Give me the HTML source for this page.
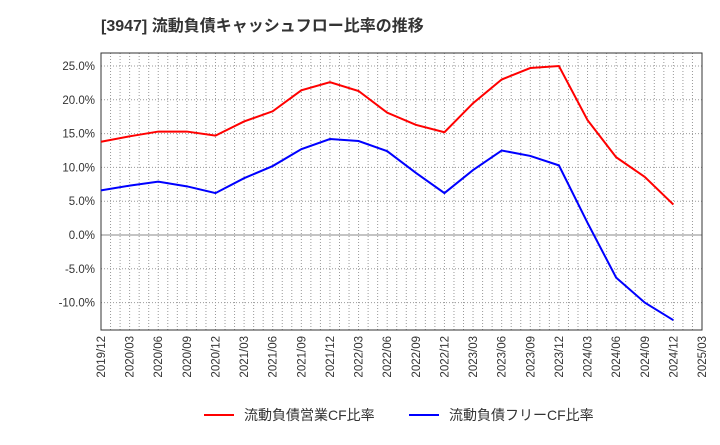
<!DOCTYPE html>
<html><head><meta charset="utf-8"><style>
body{margin:0;background:#fff;font-family:"Liberation Sans","Noto Sans CJK JP",sans-serif}
</style></head><body>
<svg id="c" width="720" height="440" xmlns="http://www.w3.org/2000/svg">
<text x="101" y="31" font-size="16" font-weight="bold" fill="#333">[3947]  流動負債キャッシュフロー比率の推移</text>
<g id="grid"></g><g id="axes"></g><g id="series"></g>
<g>
<line x1="204" y1="415" x2="234" y2="415" stroke="#f00" stroke-width="2"/>
<text x="244" y="420" font-size="14" fill="#333">流動負債営業CF比率</text>
<line x1="409" y1="415" x2="439" y2="415" stroke="#00f" stroke-width="2"/>
<text x="449" y="420" font-size="14" fill="#333">流動負債フリーCF比率</text>
</g>
</svg>
<script>
const categories=["2019/12","2020/03","2020/06","2020/09","2020/12","2021/03","2021/06","2021/09","2021/12","2022/03","2022/06","2022/09","2022/12","2023/03","2023/06","2023/09","2023/12","2024/03","2024/06","2024/09","2024/12","2025/03"];
const operatingCF=[13.8,14.6,15.3,15.3,14.7,16.8,18.3,21.4,22.6,21.3,18.1,16.3,15.2,19.5,23.0,24.7,25.0,17.0,11.5,8.6,4.5];
const freeCF=[6.6,7.3,7.9,7.2,6.2,8.4,10.2,12.7,14.2,13.9,12.4,9.2,6.2,9.6,12.5,11.7,10.3,1.8,-6.3,-10.0,-12.6];
const yTicks=[25,20,15,10,5,0,-5,-10];
const L=101,R=702,T=53,B=330;
const x=i=>L+(R-L)*i/(categories.length-1);
const y=v=>235-v*(235-66)/25;
const NS="http://www.w3.org/2000/svg";
function mk(p,t,a){const e=document.createElementNS(NS,t);for(const k in a)e.setAttribute(k,a[k]);p.appendChild(e);return e;}
const grid=document.getElementById('grid'),axes=document.getElementById('axes'),ser=document.getElementById('series');
for(let m=1;m<(categories.length-1)*3;m++){const xx=L+(R-L)*m/((categories.length-1)*3);
const g=mk(grid,'line',{x1:xx,x2:xx,y1:T,y2:B,stroke:'#999','stroke-dasharray':'1,2','stroke-width':1});

}
yTicks.forEach(v=>{const g=mk(grid,'line',{x1:L,x2:R,y1:y(v),y2:y(v),stroke:v===0?'#888':'#999','stroke-dasharray':v===0?'':'1,2','stroke-width':1});


const t=mk(axes,'text',{x:L-6,y:y(v)+4,'text-anchor':'end','font-size':11.5,fill:'#333'});t.textContent=v.toFixed(1)+'%';

});
const fr=mk(axes,'rect',{x:L,y:T,width:R-L,height:B-T,fill:'none',stroke:'#333','stroke-width':1});


categories.forEach((c,i)=>{const t=mk(axes,'text',{transform:`translate(${x(i)+4},${B+6}) rotate(-90)`,'text-anchor':'end','font-size':11.5,fill:'#333'});t.textContent=c;

});
function line(d,col,name){const p=mk(ser,'polyline',{points:d.map((v,i)=>x(i)+','+y(v)).join(' '),fill:'none',stroke:col,'stroke-width':2});

}
line(operatingCF,'#f00','operating-cf-line');
line(freeCF,'#00f','free-cf-line');
</script>
</body></html>
